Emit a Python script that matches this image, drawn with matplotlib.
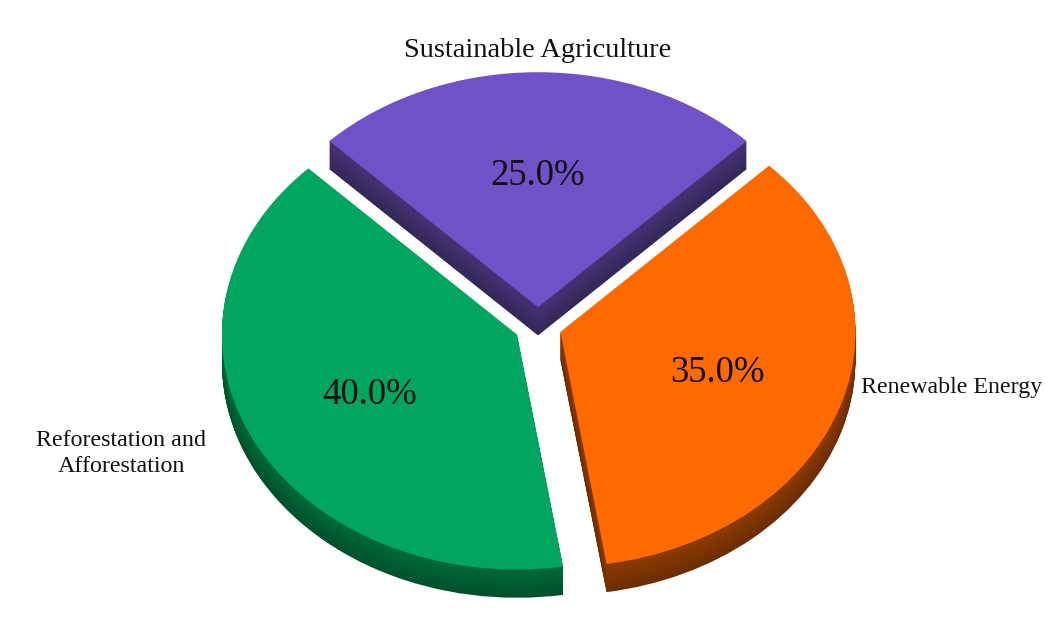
import numpy as np
import matplotlib
matplotlib.use("Agg")
import matplotlib.pyplot as plt
from matplotlib.colors import to_rgb

# Share of funding per climate action area
categories = ["Sustainable Agriculture", "Renewable Energy", "Reforestation and\nAfforestation"]
shares = [25, 35, 40]

top_colors = ["#6F52C8", "#FF6A00", "#00A65F"]
side_colors = ["#3E2E68", "#7F3503", "#005F33"]
label_sizes = [20.5, 17.2, 17.3]
label_offsets = [(0, 22), (20, 17), (-48, -12)]  # pixels away from the rim

explode = [0.08] * len(shares)
start, depth, n_layers = 135, 0.12, 40
px_x, px_y = 295.0, 235.0      # pixels per data unit (flattened ellipse)
cx, cy = 538, 326              # pie centre in pixels from top-left

W, H = 1058, 643
fig = plt.figure(figsize=(W / 100, H / 100), dpi=100)
ax = fig.add_axes([0, 0, 1, 1])

# side wall: stack of darker copies pushed downward
for i, d in enumerate(np.linspace(depth, 0.004, n_layers)):
    t = i / (n_layers - 1)
    cols = [tuple(np.array(to_rgb(s)) * (0.85 + 0.25 * t)) for s in side_colors]
    cols = [tuple(min(1, c) for c in col) for col in cols]
    ax.pie(shares, explode=explode, startangle=start, counterclock=False,
           colors=cols, center=(0, -d), wedgeprops=dict(linewidth=0))

wedges, texts, autotexts = ax.pie(
    shares, explode=explode, startangle=start, counterclock=False,
    colors=top_colors, autopct="%1.1f%%", pctdistance=0.56,
    wedgeprops=dict(linewidth=0),
    textprops=dict(fontsize=26.5, family="Liberation Serif", color="#111111"))

# category labels placed just outside the rim of each exploded slice
for w, lab, ex, size, off in zip(wedges, categories, explode, label_sizes, label_offsets):
    ang = np.deg2rad((w.theta1 + w.theta2) / 2)
    x = (1 + ex) * np.cos(ang)
    y = (1 + ex) * np.sin(ang)
    if abs(x) < 0.2:
        ha = "center"
    else:
        ha = "left" if x > 0 else "right"
    ax.annotate(lab, (x, y), xytext=off, textcoords="offset pixels",
                ha=ha, va="center", multialignment="center", linespacing=1.3,
                fontsize=size, family="Liberation Serif", color="#111111")

ax.set_aspect("auto")
ax.set_xlim(-cx / px_x, (W - cx) / px_x)
ax.set_ylim(-(H - cy) / px_y, cy / px_y)
ax.axis("off")

fig.savefig("out.png", dpi=100, facecolor="white")
